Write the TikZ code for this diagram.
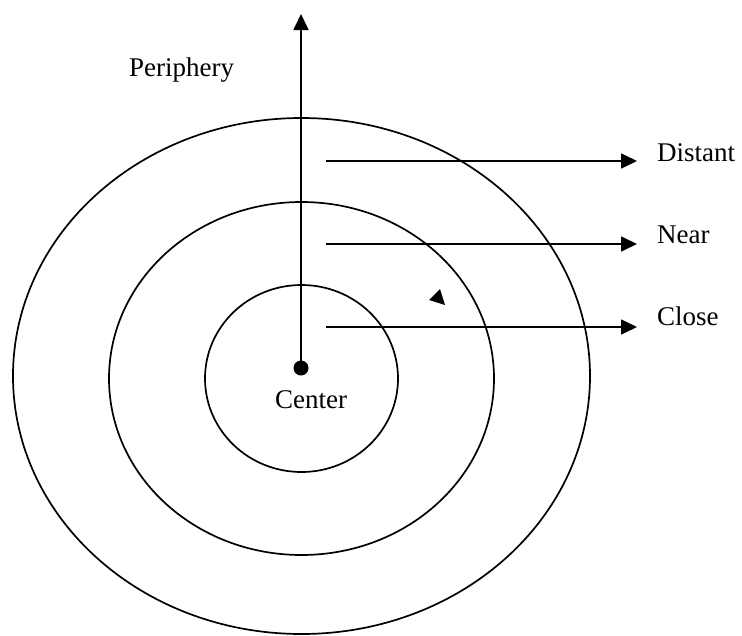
\documentclass[tikz,border=0pt]{standalone}
\usepackage{fontspec}
\setmainfont{Liberation Serif}
\usetikzlibrary{arrows.meta}
\begin{document}
\begin{tikzpicture}[x=1pt,y=-1pt,
  ring/.style={draw=black,line width=1.7pt},
  conn/.style={line width=1.7pt,-{Triangle[length=16pt,width=15pt]}},
  lbl/.style={inner sep=0pt,font=\fontsize{27}{32}\selectfont}]
\useasboundingbox (0,0) rectangle (742,635);
% rings
\draw[ring] (301.5,376) ellipse [x radius=288.5,y radius=258];
\draw[ring] (301.5,378.5) ellipse [x radius=192.5,y radius=176.5];
\draw[ring] (301.5,378.5) ellipse [x radius=96.5,y radius=93.5];
% center dot
\node[circle,fill=black,minimum size=15pt,inner sep=0pt] (dot) at (301,368) {};
\coordinate (top) at (301,14);
\draw[conn] (dot.center) -- (top);
% horizontal arrows
\coordinate (s1) at (326,161);
\coordinate (t1) at (637,161);
\coordinate (s2) at (326,244);
\coordinate (t2) at (637,244);
\coordinate (s3) at (326,327);
\coordinate (t3) at (637,327);
\draw[conn] (s1) -- (t1);
\draw[conn] (s2) -- (t2);
\draw[conn] (s3) -- (t3);
% labels
\node[lbl,anchor=base west] (distant) at (657,161) {Distant};
\node[lbl,anchor=base west] (near) at (657,243) {Near};
\node[lbl,anchor=base west] (close) at (657,325) {Close};
\node[lbl,anchor=base west] (periphery) at (129,76) {Periphery};
\node[lbl,anchor=base] (center) at (311,408) {Center};
% stray arrowhead
\fill (429,300) -- (440,289) -- (445,305) -- cycle;
\end{tikzpicture}
\end{document}
